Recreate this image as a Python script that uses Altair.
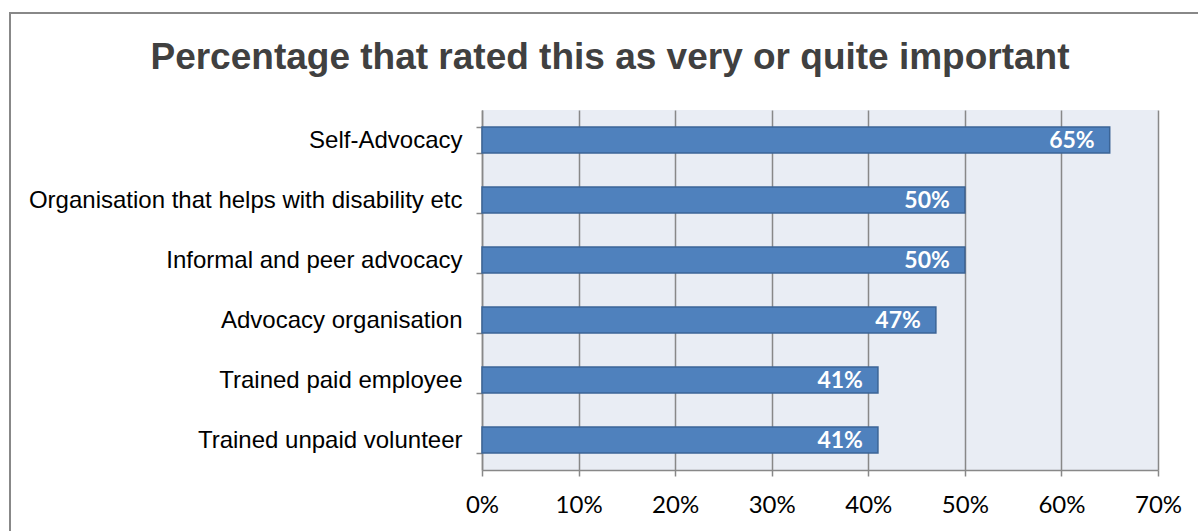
import altair as alt
import pandas as pd

categories = ["Self-Advocacy", "Organisation that helps with disability etc",
              "Informal and peer advocacy", "Advocacy organisation",
              "Trained paid employee", "Trained unpaid volunteer"]
values = [65, 50, 50, 47, 41, 41]
labels = ["65%", "50%", "50%", "47%", "41%", "41%"]
x_ticks = [0, 10, 20, 30, 40, 50, 60, 70]

df = pd.DataFrame({"cat": categories, "val": values, "lab": labels})

y_enc = alt.Y("cat:N", sort=categories, title=None,
              scale=alt.Scale(paddingInner=0.57, paddingOuter=0.285),
              axis=alt.Axis(tickBand="extent", grid=False, domainColor="#888888",
                            domainWidth=1.5, tickColor="#888888", tickWidth=1.5,
                            tickSize=6, labelPadding=14, labelFont="Liberation Sans",
                            labelFontSize=24, labelColor="#000000", labelLimit=600))
x_enc = alt.X("val:Q", title=None,
              scale=alt.Scale(domain=[0, 70], nice=False),
              axis=alt.Axis(values=x_ticks, labelExpr="datum.value + '%'",
                            grid=True, gridColor="#888888", gridWidth=1.5,
                            domainColor="#888888", domainWidth=1.5,
                            tickColor="#888888", tickWidth=1.5, tickSize=6,
                            labelPadding=17, labelFont="Lato", labelFontSize=24,
                            labelColor="#000000", labelFlush=False))

bars = alt.Chart(df).mark_bar(color="#4F81BD", stroke="#3B6496", strokeWidth=1.5).encode(
    x=x_enc, y=y_enc)

text = alt.Chart(df).mark_text(align="right", baseline="middle", dx=-15, dy=1,
                               font="Lato", fontWeight="bold", fontSize=23,
                               color="white").encode(
    x="val:Q", y=alt.Y("cat:N", sort=categories), text="lab:N")

border = alt.Chart(df).mark_rect(fill=None, stroke="#888888", strokeWidth=2, clip=False).encode(
    x=alt.value(-472), x2=alt.value(760), y=alt.value(-97), y2=alt.value(460))

chart = alt.layer(border, bars, text).properties(
    width=676, height=360,
    title=alt.TitleParams("Percentage that rated this as very or quite important",
                          font="Liberation Sans", fontSize=37, fontWeight="bold",
                          color="#404040", anchor="middle", frame="group",
                          dx=-210, offset=-65, limit=2000),
    padding={"left": 482, "top": 110, "right": 40, "bottom": 61},
    autosize="none",
    background="white",
).configure_view(fill="#E9EDF4", stroke=None)

chart.save("out.html", embed_options={"renderer": "svg", "actions": False})
